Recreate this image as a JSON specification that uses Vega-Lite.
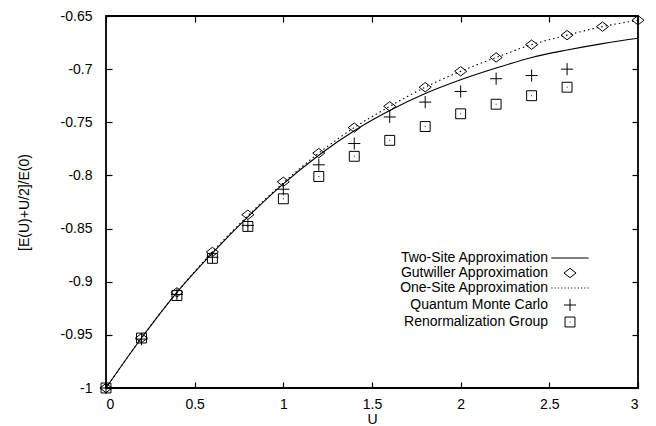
{
  "$schema": "https://vega.github.io/schema/vega-lite/v6.json",
  "width": 532,
  "height": 372,
  "autosize": "none",
  "padding": {"left": 106, "top": 16, "right": 18, "bottom": 38},
  "background": "white",
  "config": {
    "font": "Liberation Sans",
    "view": {"stroke": "black", "strokeWidth": 1.8},
    "axis": {
      "grid": false,
      "domain": false,
      "tickColor": "black",
      "tickSize": -6,
      "tickWidth": 1.2,
      "labelFont": "Liberation Sans",
      "labelFontSize": 14,
      "labelColor": "black",
      "titleFont": "Liberation Sans",
      "titleFontSize": 14,
      "titleFontWeight": "normal",
      "titleColor": "black"
    }
  },
  "data": {
    "values": [
      {"series": "Two-Site Approximation", "U": 0.0, "v": -1.0},
      {"series": "Two-Site Approximation", "U": 0.2, "v": -0.953},
      {"series": "Two-Site Approximation", "U": 0.4, "v": -0.910},
      {"series": "Two-Site Approximation", "U": 0.6, "v": -0.873},
      {"series": "Two-Site Approximation", "U": 0.8, "v": -0.839},
      {"series": "Two-Site Approximation", "U": 1.0, "v": -0.808},
      {"series": "Two-Site Approximation", "U": 1.2, "v": -0.781},
      {"series": "Two-Site Approximation", "U": 1.4, "v": -0.758},
      {"series": "Two-Site Approximation", "U": 1.6, "v": -0.739},
      {"series": "Two-Site Approximation", "U": 1.8, "v": -0.723},
      {"series": "Two-Site Approximation", "U": 2.0, "v": -0.710},
      {"series": "Two-Site Approximation", "U": 2.2, "v": -0.699},
      {"series": "Two-Site Approximation", "U": 2.4, "v": -0.689},
      {"series": "Two-Site Approximation", "U": 2.6, "v": -0.682},
      {"series": "Two-Site Approximation", "U": 2.8, "v": -0.676},
      {"series": "Two-Site Approximation", "U": 3.0, "v": -0.671},
      {"series": "One-Site Approximation", "U": 0.0, "v": -1.0},
      {"series": "One-Site Approximation", "U": 0.2, "v": -0.953},
      {"series": "One-Site Approximation", "U": 0.4, "v": -0.910},
      {"series": "One-Site Approximation", "U": 0.6, "v": -0.872},
      {"series": "One-Site Approximation", "U": 0.8, "v": -0.838},
      {"series": "One-Site Approximation", "U": 1.0, "v": -0.807},
      {"series": "One-Site Approximation", "U": 1.2, "v": -0.779},
      {"series": "One-Site Approximation", "U": 1.4, "v": -0.755},
      {"series": "One-Site Approximation", "U": 1.6, "v": -0.735},
      {"series": "One-Site Approximation", "U": 1.8, "v": -0.717},
      {"series": "One-Site Approximation", "U": 2.0, "v": -0.702},
      {"series": "One-Site Approximation", "U": 2.2, "v": -0.689},
      {"series": "One-Site Approximation", "U": 2.4, "v": -0.677},
      {"series": "One-Site Approximation", "U": 2.6, "v": -0.668},
      {"series": "One-Site Approximation", "U": 2.8, "v": -0.660},
      {"series": "One-Site Approximation", "U": 3.0, "v": -0.654},
      {"series": "Gutwiller Approximation", "U": 0.0, "v": -1.0},
      {"series": "Gutwiller Approximation", "U": 0.2, "v": -0.953},
      {"series": "Gutwiller Approximation", "U": 0.4, "v": -0.910},
      {"series": "Gutwiller Approximation", "U": 0.6, "v": -0.872},
      {"series": "Gutwiller Approximation", "U": 0.8, "v": -0.837},
      {"series": "Gutwiller Approximation", "U": 1.0, "v": -0.806},
      {"series": "Gutwiller Approximation", "U": 1.2, "v": -0.779},
      {"series": "Gutwiller Approximation", "U": 1.4, "v": -0.755},
      {"series": "Gutwiller Approximation", "U": 1.6, "v": -0.735},
      {"series": "Gutwiller Approximation", "U": 1.8, "v": -0.717},
      {"series": "Gutwiller Approximation", "U": 2.0, "v": -0.702},
      {"series": "Gutwiller Approximation", "U": 2.2, "v": -0.689},
      {"series": "Gutwiller Approximation", "U": 2.4, "v": -0.677},
      {"series": "Gutwiller Approximation", "U": 2.6, "v": -0.668},
      {"series": "Gutwiller Approximation", "U": 2.8, "v": -0.660},
      {"series": "Gutwiller Approximation", "U": 3.0, "v": -0.654},
      {"series": "Quantum Monte Carlo", "U": 0.0, "v": -1.0},
      {"series": "Quantum Monte Carlo", "U": 0.2, "v": -0.954},
      {"series": "Quantum Monte Carlo", "U": 0.4, "v": -0.912},
      {"series": "Quantum Monte Carlo", "U": 0.6, "v": -0.877},
      {"series": "Quantum Monte Carlo", "U": 0.8, "v": -0.847},
      {"series": "Quantum Monte Carlo", "U": 1.0, "v": -0.813},
      {"series": "Quantum Monte Carlo", "U": 1.2, "v": -0.790},
      {"series": "Quantum Monte Carlo", "U": 1.4, "v": -0.770},
      {"series": "Quantum Monte Carlo", "U": 1.6, "v": -0.745},
      {"series": "Quantum Monte Carlo", "U": 1.8, "v": -0.731},
      {"series": "Quantum Monte Carlo", "U": 2.0, "v": -0.721},
      {"series": "Quantum Monte Carlo", "U": 2.2, "v": -0.709},
      {"series": "Quantum Monte Carlo", "U": 2.4, "v": -0.706},
      {"series": "Quantum Monte Carlo", "U": 2.6, "v": -0.700},
      {"series": "Renormalization Group", "U": 0.0, "v": -1.0},
      {"series": "Renormalization Group", "U": 0.2, "v": -0.953},
      {"series": "Renormalization Group", "U": 0.4, "v": -0.913},
      {"series": "Renormalization Group", "U": 0.6, "v": -0.878},
      {"series": "Renormalization Group", "U": 0.8, "v": -0.848},
      {"series": "Renormalization Group", "U": 1.0, "v": -0.822},
      {"series": "Renormalization Group", "U": 1.2, "v": -0.801},
      {"series": "Renormalization Group", "U": 1.4, "v": -0.782},
      {"series": "Renormalization Group", "U": 1.6, "v": -0.767},
      {"series": "Renormalization Group", "U": 1.8, "v": -0.754},
      {"series": "Renormalization Group", "U": 2.0, "v": -0.742},
      {"series": "Renormalization Group", "U": 2.2, "v": -0.733},
      {"series": "Renormalization Group", "U": 2.4, "v": -0.725},
      {"series": "Renormalization Group", "U": 2.6, "v": -0.717}
    ]
  },
  "layer": [
    {
      "transform": [{"filter": "datum.series === 'Two-Site Approximation'"}],
      "mark": {"type": "line", "stroke": "black", "strokeWidth": 1.1, "interpolate": "monotone"},
      "encoding": {
        "x": {
          "field": "U", "type": "quantitative",
          "scale": {"domain": [0, 3], "nice": false},
          "axis": {"orient": "bottom", "title": "U", "values": [0, 0.5, 1, 1.5, 2, 2.5, 3], "labelExpr": "'' + datum.value", "labelPadding": 15, "titlePadding": 1}
        },
        "y": {
          "field": "v", "type": "quantitative",
          "scale": {"domain": [-1, -0.65], "nice": false, "zero": false},
          "axis": {"orient": "left", "title": "[E(U)+U/2]/E(0)", "values": [-1, -0.95, -0.9, -0.85, -0.8, -0.75, -0.7, -0.65], "labelExpr": "'' + datum.value", "labelPadding": 20, "titlePadding": 29}
        }
      }
    },
    {
      "transform": [{"filter": "datum.series === 'One-Site Approximation'"}],
      "mark": {"type": "line", "stroke": "black", "strokeWidth": 1.1, "strokeDash": [1.5, 3], "interpolate": "monotone"},
      "encoding": {
        "x": {
          "field": "U", "type": "quantitative",
          "axis": {"orient": "top", "title": null, "labels": false, "values": [0, 0.5, 1, 1.5, 2, 2.5, 3]}
        },
        "y": {
          "field": "v", "type": "quantitative",
          "axis": {"orient": "right", "title": null, "labels": false, "values": [-1, -0.95, -0.9, -0.85, -0.8, -0.75, -0.7, -0.65]}
        }
      }
    },
    {
      "transform": [{"filter": "datum.series !== 'Two-Site Approximation' && datum.series !== 'One-Site Approximation'"}],
      "mark": {"type": "point", "filled": false, "stroke": "black", "strokeWidth": 1, "size": 121, "opacity": 1},
      "encoding": {
        "x": {"field": "U", "type": "quantitative", "axis": null},
        "y": {"field": "v", "type": "quantitative", "axis": null},
        "shape": {
          "field": "series", "type": "nominal",
          "scale": {
            "domain": ["Two-Site Approximation", "Gutwiller Approximation", "One-Site Approximation", "Quantum Monte Carlo", "Renormalization Group"],
            "range": [
              "M-3.4,0L3.4,0",
              "M0,-0.85L1.1,0L0,0.85L-1.1,0Z",
              "M-3.4,0L-3.2,0M-2.8,0L-2.6,0M-2.2,0L-2,0M-1.6,0L-1.4,0M-1,0L-0.8,0M-0.4,0L-0.2,0M0.2,0L0.4,0M0.8,0L1,0M1.4,0L1.6,0M2,0L2.2,0M2.6,0L2.8,0M3.2,0L3.4,0",
              "M-1.1,0L1.1,0M0,-1.1L0,1.1",
              "M-0.9,-0.9L0.9,-0.9L0.9,0.9L-0.9,0.9ZM-0.08,0L0.08,0"
            ]
          },
          "legend": {
            "title": null,
            "orient": "none",
            "legendX": 457,
            "legendY": 235,
            "padding": 0,
            "labelFont": "Liberation Sans",
            "labelFontSize": 14,
            "labelColor": "black",
            "labelAlign": "right",
            "labelOffset": -29,
            "labelLimit": 400,
            "symbolStrokeColor": "black",
            "symbolFillColor": "transparent",
            "symbolStrokeWidth": 1,
            "symbolSize": 121,
            "symbolOpacity": 1,
            "rowPadding": 1
          }
        }
      }
    }
  ],
  "resolve": {"axis": {"x": "independent", "y": "independent"}}
}
